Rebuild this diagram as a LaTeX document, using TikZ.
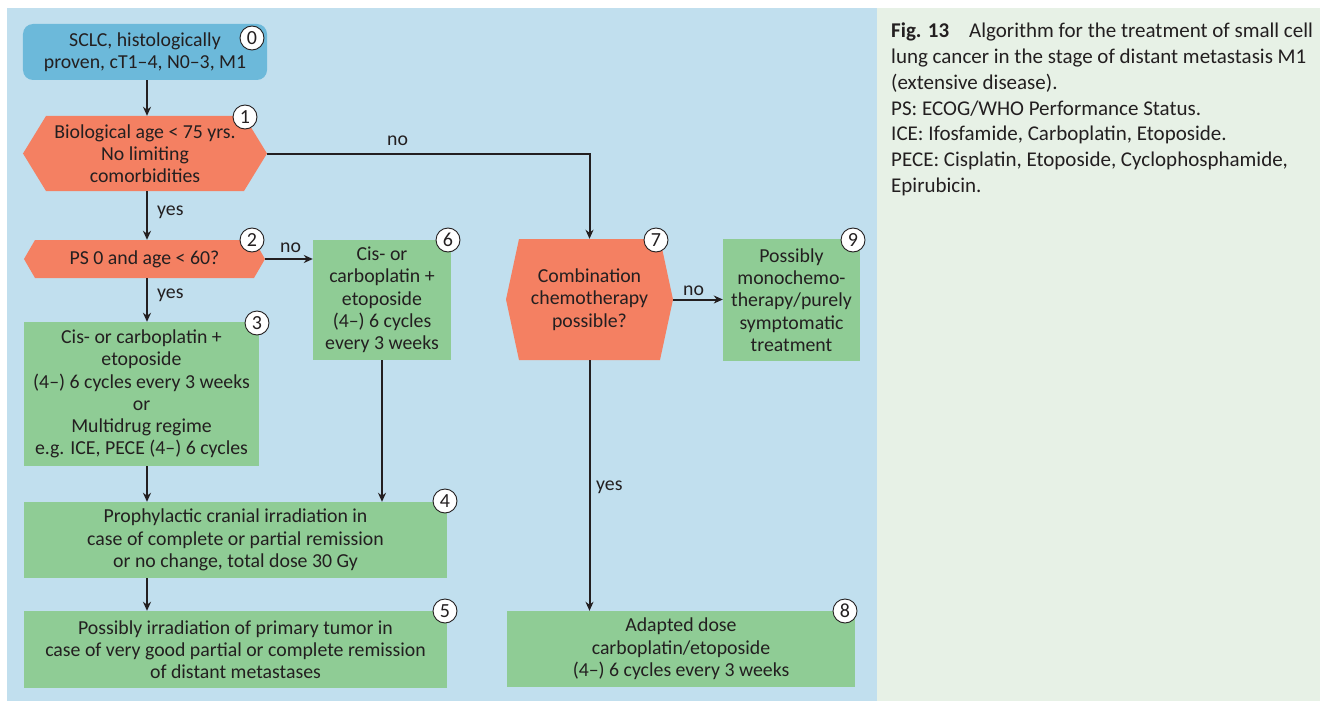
\documentclass[tikz,border=0pt]{standalone}
\usepackage{fontspec}
\setmainfont{Carlito}
\usetikzlibrary{arrows.meta}
\definecolor{ink}{HTML}{231F20}
\definecolor{panelblue}{HTML}{C1DFEE}
\definecolor{panelgreen}{HTML}{E7F1E6}
\definecolor{startblue}{HTML}{6CB9DA}
\definecolor{decisionorange}{HTML}{F48062}
\definecolor{stepgreen}{HTML}{8FCC95}
\begin{document}
\begin{tikzpicture}[x=1bp,y=-1bp,
  txt/.style={font=\fontsize{19.8bp}{22.3bp}\selectfont, text=ink, align=center, inner sep=0pt},
  startbox/.style={txt, fill=startblue, rounded corners=10bp},
  stepbox/.style={txt, fill=stepgreen},
  hexbox/.style={txt, path picture={
      \fill[decisionorange] (path picture bounding box.west)
        -- ([xshift=#1]path picture bounding box.north west)
        -- ([xshift=-#1]path picture bounding box.north east)
        -- (path picture bounding box.east)
        -- ([xshift=-#1]path picture bounding box.south east)
        -- ([xshift=#1]path picture bounding box.south west) -- cycle;}},
  numc/.style={circle, draw=ink, line width=0.9bp, fill=white, minimum size=24bp, inner sep=0pt,
      text=ink, font=\fontsize{20bp}{20bp}\selectfont},
  lbl/.style={font=\fontsize{19.8bp}{22bp}\selectfont, text=ink, inner sep=0pt, anchor=base west},
  capline/.style={font=\fontsize{21bp}{24bp}\selectfont, text=ink, inner sep=0pt, anchor=base west},
  flow/.style={draw=ink, line width=2bp, -{Stealth[length=9bp,width=8bp]}}
]
\useasboundingbox (0,0) rectangle (1320,700);
\fill[white] (-5,-5) rectangle (1325,705);
% panels
\fill[panelblue] (7,8) rectangle (877,705);
\fill[panelgreen] (877,8) rectangle (1325,705);

% flowchart boxes
\node[startbox, minimum width=244bp, minimum height=56bp] (n0) at (145,52)
  {SCLC, histologically\\proven, cT1–4, N0–3, M1};
\node[hexbox=23bp, minimum width=244bp, minimum height=75bp] (n1) at (145,153.5)
  {Biological age < 75 yrs.\\No limiting\\comorbidities};
\node[hexbox=11bp, minimum width=241bp, minimum height=38bp] (n2) at (144.5,259)
  {PS 0 and age < 60?};
\node[stepbox, minimum width=235bp, minimum height=144bp] (n3) at (141.5,394)
  {Cis- or carboplatin +\\etoposide\\(4–) 6 cycles every 3 weeks\\or\\Multidrug regime\\e.g. ICE, PECE (4–) 6 cycles};
\node[stepbox, minimum width=138bp, minimum height=120bp] (n6) at (382,300)
  {Cis- or\\carboplatin +\\etoposide\\(4–) 6 cycles\\every 3 weeks};
\node[stepbox, minimum width=423bp, minimum height=76bp] (n4) at (235.5,540)
  {Prophylactic cranial irradiation in\\case of complete or partial remission\\or no change, total dose 30 Gy};
\node[stepbox, minimum width=423bp, minimum height=77bp] (n5) at (235.5,649.5)
  {Possibly irradiation of primary tumor in\\case of very good partial or complete remission\\of distant metastases};
\node[hexbox=13bp, minimum width=167bp, minimum height=121bp] (n7) at (589.5,299.5)
  {Combination\\chemotherapy\\possible?};
\node[stepbox, minimum width=137bp, minimum height=122bp] (n9) at (791.5,300)
  {Possibly\\monochemo-\\therapy/purely\\symptomatic\\treatment};
\node[stepbox, minimum width=348bp, minimum height=76bp] (n8) at (681,649)
  {Adapted dose\\carboplatin/etoposide\\(4–) 6 cycles every 3 weeks};

% step numbers
\node[numc] (c0) at (252,38) {0};
\node[numc] (c1) at (245,117) {1};
\node[numc] (c2) at (252,240) {2};
\node[numc] (c3) at (257,323) {3};
\node[numc] (c6) at (448,240) {6};
\node[numc] (c4) at (445,501) {4};
\node[numc] (c5) at (445,611) {5};
\node[numc] (c7) at (656,240) {7};
\node[numc] (c9) at (853,240) {9};
\node[numc] (c8) at (845,611) {8};

% connectors
\coordinate (colA) at (147,0);
\draw[flow] (n0.south -| colA) -- (n1.north -| colA);
\draw[flow] (n1.south -| colA) -- (n2.north -| colA);
\draw[flow] (n2.south -| colA) -- (n3.north -| colA);
\draw[flow] (n3.south -| colA) -- (n4.north -| colA);
\draw[flow] (n4.south -| colA) -- (n5.north -| colA);
\draw[flow] (n2.east) -- (n2.east -| n6.west);
\draw[flow] (n6.south) -- (n6.south |- n4.north);
\draw[flow] (n1.east) -| (n7.north);
\draw[flow] (n7.east) -- (n7.east -| n9.west);
\draw[flow] (n7.south) -- (n7.south |- n8.north);

% branch labels
\node[lbl] (l1) at (157,215) {yes};
\node[lbl] (l2) at (157,298) {yes};
\node[lbl] (l3) at (280,252) {no};
\node[lbl] (l4) at (387,145) {no};
\node[lbl] (l5) at (683,295) {no};
\node[lbl] (l6) at (596,490) {yes};

% figure caption
\node[capline] (cap1) at (891,38) {\textbf{Fig. 13}\hspace{20bp}Algorithm for the treatment of small cell};
\node[capline] (cap2) at (891,63.7) {lung cancer in the stage of distant metastasis M1};
\node[capline] (cap3) at (891,89.4) {(extensive disease).};
\node[capline] (cap4) at (891,115.1) {PS: ECOG/WHO Performance Status.};
\node[capline] (cap5) at (891,140.8) {ICE: Ifosfamide, Carboplatin, Etoposide.};
\node[capline] (cap6) at (891,166.5) {PECE: Cisplatin, Etoposide, Cyclophosphamide,};
\node[capline] (cap7) at (891,192.2) {Epirubicin.};
\end{tikzpicture}
\end{document}
